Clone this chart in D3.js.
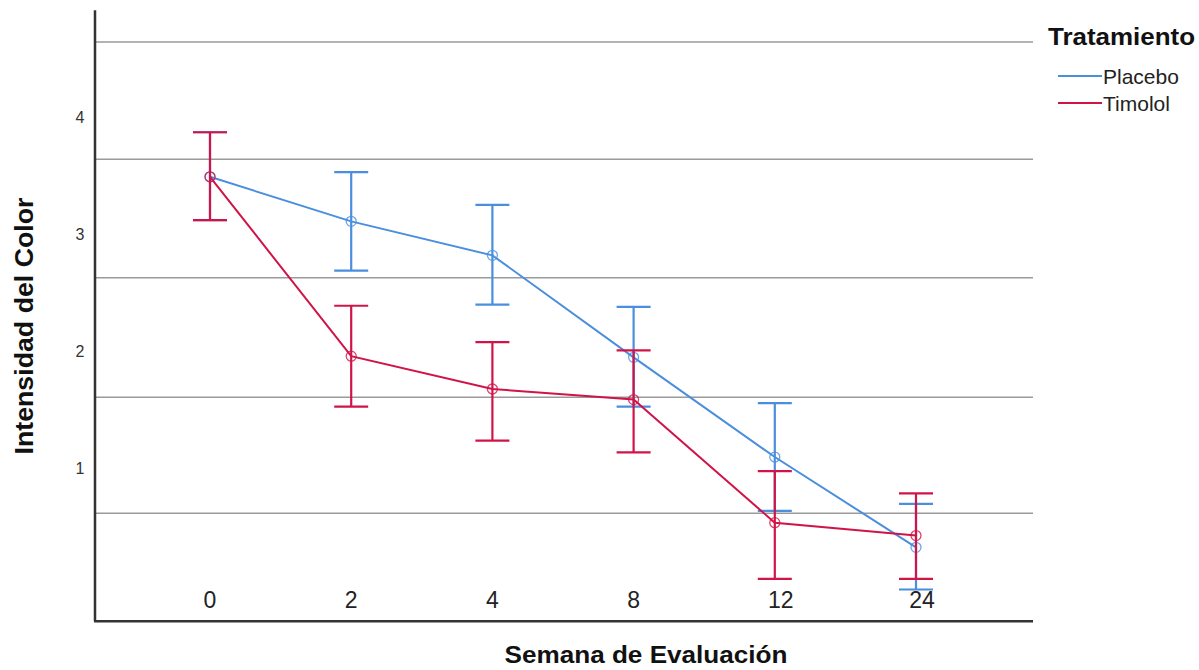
<!DOCTYPE html>
<html lang="es">
<head>
	<meta charset="UTF-8">
	<title>Intensidad del Color</title>
	<script src="https://cdn.jsdelivr.net/npm/d3@7"></script>
	<style>
		html,body{margin:0;padding:0;background:#fff;}
		svg{display:block;font-family:"Liberation Sans",Arial,sans-serif;}
		.grid line{stroke:#9a9a9a;stroke-width:1.5;}
		.axisline{stroke:#333;stroke-width:2.5;}
	</style>
</head>
<body>
	<svg id="svg" width="1199" height="670"></svg>
	<script>
		// semanas
		var weeks = ["0","2","4","8","12","24"];
		var yTicks = [1,2,3,4];
		var gridVals = [0.62,1.61,2.63,3.64,4.64];

		var placeboMean = [3.49,3.11,2.82,1.95,1.10,0.33];
		var placeboHi   = [3.87,3.53,3.25,2.38,1.56,0.70];
		var placeboLo   = [3.12,2.69,2.40,1.53,0.64,-0.03];

		var timololMean = [3.49,1.96,1.68,1.59,0.54,0.43];
		var timololHi   = [3.87,2.39,2.08,2.01,0.98,0.79];
		var timololLo   = [3.12,1.53,1.24,1.14,0.06,0.06];

		var seriesNames = ["Placebo","Timolol"];
		var colors = {Placebo:"#4a8ede",Timolol:"#d01448"};

		var svg = d3.select("#svg");

		var x = d3.scalePoint().domain(weeks).range([210,916]);
		var y = d3.scaleLinear().domain([0,4]).range([586,117]);

		// gridlines
		svg.append("g").attr("class","grid")
			.selectAll("line").data(gridVals).enter().append("line")
			.attr("x1",95).attr("x2",1033)
			.attr("y1",d=>y(d)).attr("y2",d=>y(d));

		// axes lines
		svg.append("line").attr("class","axisline")
			.attr("x1",95).attr("x2",95).attr("y1",y(4.91)).attr("y2",y(-0.3));
		svg.append("line").attr("class","axisline")
			.attr("x1",94).attr("x2",1033).attr("y1",y(-0.3)).attr("y2",y(-0.3));

		// y tick labels
		svg.append("g").selectAll("text").data(yTicks).enter().append("text")
			.attr("x",80).attr("y",d=>y(d)).attr("dy","0.35em")
			.attr("text-anchor","middle").attr("font-size",16).attr("fill","#333")
			.text(d=>d);

		// x tick labels
		svg.append("g").selectAll("text").data(weeks).enter().append("text")
			.attr("x",d=>x(d)+(d.length>1?6:0)).attr("y",608)
			.attr("text-anchor","middle").attr("font-size",23).attr("fill","#222")
			.text(d=>d);

		var series = [
			{name:"Placebo",mean:placeboMean,hi:placeboHi,lo:placeboLo},
			{name:"Timolol",mean:timololMean,hi:timololHi,lo:timololLo}
		];

		var line = d3.line().x(d=>x(d.w)).y(d=>y(d.v));

		series.forEach(function(s){
			var pts = weeks.map((w,i)=>({w:w,v:s.mean[i],hi:s.hi[i],lo:s.lo[i]}));
			var g = svg.append("g").attr("stroke",colors[s.name]).attr("fill","none");
			// error bars
			var eb = g.selectAll(".eb").data(pts).enter().append("g").attr("stroke-width",2.2);
			eb.append("line").attr("x1",d=>x(d.w)).attr("x2",d=>x(d.w))
				.attr("y1",d=>y(d.hi)).attr("y2",d=>y(d.lo));
			eb.append("line").attr("x1",d=>x(d.w)-17).attr("x2",d=>x(d.w)+17)
				.attr("y1",d=>y(d.hi)).attr("y2",d=>y(d.hi));
			eb.append("line").attr("x1",d=>x(d.w)-17).attr("x2",d=>x(d.w)+17)
				.attr("y1",d=>y(d.lo)).attr("y2",d=>y(d.lo));
			g.append("path").attr("d",line(pts)).attr("stroke-width",2);
			g.selectAll("circle").data(pts).enter().append("circle")
				.attr("cx",d=>x(d.w)).attr("cy",d=>y(d.v)).attr("r",5)
				.attr("stroke-width",1.3).attr("fill","none").attr("opacity",0.8);
		});

		// axis titles
		svg.append("text").attr("transform","translate(33,326) rotate(-90)")
			.attr("text-anchor","middle").attr("font-size",25).attr("font-weight","bold")
			.attr("textLength",257).attr("lengthAdjust","spacingAndGlyphs")
			.attr("fill","#111").text("Intensidad del Color");
		svg.append("text").attr("x",646).attr("y",663)
			.attr("text-anchor","middle").attr("font-size",23).attr("font-weight","bold")
			.attr("textLength",283).attr("lengthAdjust","spacingAndGlyphs")
			.attr("fill","#111").text("Semana de Evaluación");

		// legend
		svg.append("text").attr("x",1048).attr("y",45)
			.attr("font-size",24).attr("font-weight","bold").attr("fill","#111")
			.attr("textLength",147).attr("lengthAdjust","spacingAndGlyphs")
			.text("Tratamiento");
		var lg = svg.append("g").selectAll("g").data(seriesNames).enter().append("g")
			.attr("transform",(d,i)=>"translate(0,"+(76+i*27)+")");
		lg.append("line").attr("x1",1058).attr("x2",1102).attr("y1",0).attr("y2",0)
			.attr("stroke",d=>colors[d]).attr("stroke-width",2);
		lg.append("text").attr("x",1103).attr("y",0).attr("dy","0.36em")
			.attr("font-size",21).attr("fill","#222").text(d=>d);
	</script>
</body>
</html>
